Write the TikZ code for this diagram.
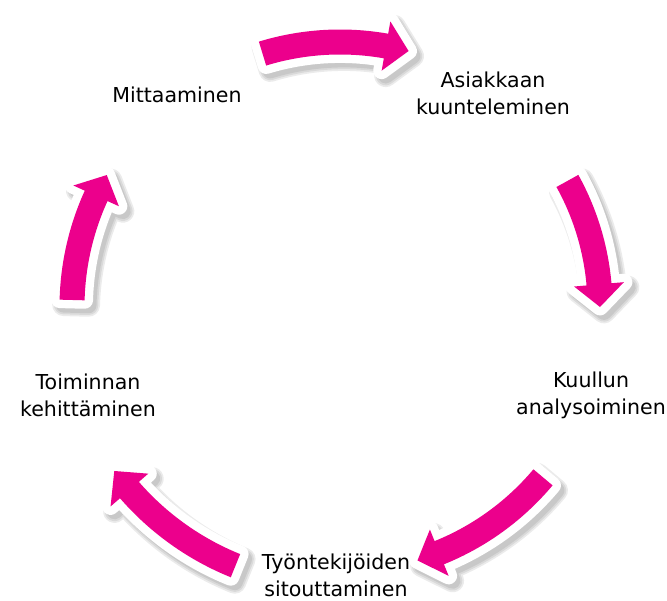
\documentclass[tikz,border=0pt]{standalone}
\usepackage{fontspec}
\setmainfont{DejaVu Sans}
\usetikzlibrary{arrows}

\definecolor{cyclepink}{RGB}{236,0,140}

\tikzset{
  steplabel/.style={align=center, inner sep=0pt, font=\fontsize{11.7}{15.3}\selectfont},
  arrowshade/.style={draw=black, fill=black, draw opacity=0.08, fill opacity=0.08, line join=round},
  arrowrim/.style={draw=white, fill=white, line width=9.6pt, line join=round},
  arrowbody/.style={fill=cyclepink},
}

% radius, tail angle, head base angle, tip angle
\newcommand\arrowpath[4]{({#2}:{#1-12.5}) arc[start angle={#2}, end angle={#3}, radius={#1-12.5}]
  -- ({#3}:{#1-25}) -- ({#4}:{#1}) -- ({#3}:{#1+25})
  -- ({#3}:{#1+12.5}) arc[start angle={#3}, end angle={#2}, radius={#1+12.5}] -- cycle}

\newcommand\cyclearrow[4]{%
  \foreach \lw in {13pt,11pt,9pt}
    \path[arrowshade, line width=\lw, shift={(4,-5)}] \arrowpath{#1}{#2}{#3}{#4};
  \path[arrowrim] \arrowpath{#1}{#2}{#3}{#4};
  \path[arrowbody] \arrowpath{#1}{#2}{#3}{#4};
}

\begin{document}
\begin{tikzpicture}[x=0.02cm, y=0.02cm]
\useasboundingbox (0,0) rectangle (667,600);

% labels
\node[steplabel] (mit) at (177,505) {Mittaaminen};
\node[steplabel] (asia) at (493,507) {Asiakkaan\\kuunteleminen};
\node[steplabel] (kuul) at (591,205) {Kuullun\\analysoiminen};
\node[steplabel] (tyo) at (336,25) {Työntekijöiden\\sitouttaminen};
\node[steplabel] (toim) at (88,205) {Toiminnan\\kehittäminen};

% arrows round the centre
\begin{scope}[shift={(340,293)}]
\cyclearrow{265}{107}{80}{75}
\cyclearrow{260}{29}{5}{0}
\cyclearrow{265}{-40}{-68}{-73}
\cyclearrow{279}{-112}{-139}{-144}
\cyclearrow{268}{178.5}{155.5}{150.5}
\end{scope}

\end{tikzpicture}
\end{document}
